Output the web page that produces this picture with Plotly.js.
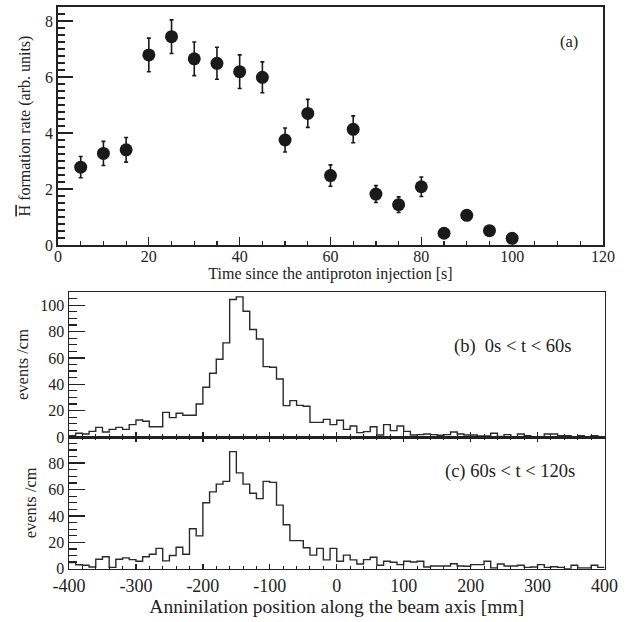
<!DOCTYPE html>
<html>
<head>
<meta charset="utf-8">
<script src="https://cdn.plot.ly/plotly-3.0.1.min.js"></script>
<style>
  html, body { margin: 0; padding: 0; background: #ffffff; }
  #chart { width: 630px; height: 622px; }
</style>
</head>
<body>
<div id="chart"></div>
<script>
// ---- Panel (a): formation rate vs time ----
const timeSec = [5, 10, 15, 20, 25, 30, 35, 40, 45, 50, 55, 60, 65, 70, 75, 80, 85, 90, 95, 100];
const formationRate = [2.78, 3.27, 3.40, 6.79, 7.44, 6.65, 6.49, 6.19, 5.99, 3.75, 4.70, 2.48, 4.13, 1.82, 1.44, 2.08, 0.42, 1.06, 0.51, 0.24];
const formationErr = [0.38, 0.43, 0.44, 0.60, 0.60, 0.60, 0.57, 0.60, 0.55, 0.43, 0.50, 0.38, 0.48, 0.30, 0.28, 0.35, 0.12, 0.15, 0.12, 0.10];

// ---- Panels (b), (c): annihilation position histograms, 10 mm bins from -400 to 400 ----
const binStart = -400;
const binWidth = 10;
const eventsEarly = [
  1.0, 2.8, 2.3, 4.3, 7.3, 3.8, 5.8, 7.3, 5.8, 9.4,
  12.9, 11.9, 7.8, 7.8, 18.7, 14.7, 18.0, 16.5, 16.5, 25.0,
  37.7, 48.4, 59.0, 71.4, 104.3, 106.3, 95.4, 81.5, 74.4, 53.4,
  52.9, 44.0, 23.8, 27.6, 24.0, 23.3, 11.1, 11.1, 13.4, 9.4,
  12.7, 5.8, 8.4, 3.3, 4.1, 7.8, 1.5, 9.4, 4.8, 8.4,
  4.3, 1.5, 1.8, 2.3, 1.8, 1.3, 1.8, 3.8, 2.3, 1.5,
  1.5, 0.8, 0.8, 2.8, 0.5, 1.8, 0.0, 2.3, 1.0, 0.3,
  0.3, 2.3, 2.3, 1.0, 1.0, 0.0, 1.0, 0.0, 1.0, 0.0
];
const eventsLate = [
  4.6, 3.0, 2.6, 1.3, 7.2, 9.0, 1.0, 7.2, 8.2, 6.9,
  5.6, 9.0, 11.0, 15.4, 5.9, 10.0, 16.2, 11.0, 30.3, 24.9,
  50.0, 58.2, 64.1, 66.2, 88.7, 72.6, 64.1, 57.2, 53.1, 66.2,
  65.4, 48.2, 33.3, 21.3, 21.3, 15.9, 10.3, 15.4, 6.7, 15.4,
  5.6, 10.3, 6.7, 3.6, 6.9, 8.7, 2.6, 5.6, 4.9, 3.1,
  5.6, 5.1, 5.6, 1.3, 2.0, 2.0, 2.0, 3.8, 2.0, 1.8,
  3.1, 3.1, 5.6, 0.5, 3.6, 2.0, 2.0, 2.6, 1.0, 1.3,
  3.1, 1.0, 1.5, 1.0, 0.0, 2.6, 0.5, 0.5, 2.6, 1.0
];

// position-axis tick labels (plain hyphen minus as in the original)
const posTickVals = [-400, -300, -200, -100, 0, 100, 200, 300, 400];
const posTickText = ['-400', '-300', '-200', '-100', '0', '100', '200', '300', '400'];

// bin edges and step values for an outline histogram
const binEdges = [];
for (let i = 0; i <= eventsEarly.length; i++) binEdges.push(binStart + i * binWidth);
const stepY = arr => arr.concat([arr[arr.length - 1]]);

const FONT = 'Liberation Serif, Times New Roman, serif';
const INK = '#1a1a1a';
const W = 630, H = 622;
const px = v => v / W;
const py = v => 1 - v / H;

const traces = [
  {
    type: 'scatter', mode: 'markers',
    x: timeSec, y: formationRate,
    error_y: { type: 'data', array: formationErr, visible: true, color: INK, thickness: 1.6, width: 2 },
    marker: { symbol: 'circle', size: 13, color: INK },
    xaxis: 'x', yaxis: 'y', hoverinfo: 'x+y'
  },
  {
    type: 'scatter', mode: 'lines',
    x: binEdges, y: stepY(eventsEarly),
    line: { shape: 'hv', color: '#2a2a2a', width: 1.4 },
    xaxis: 'x2', yaxis: 'y2'
  },
  {
    type: 'scatter', mode: 'lines',
    x: binEdges, y: stepY(eventsLate),
    line: { shape: 'hv', color: '#2a2a2a', width: 1.4 },
    xaxis: 'x3', yaxis: 'y3'
  }
];

const baseAxis = {
  showgrid: false, zeroline: false, showline: true, mirror: true,
  linecolor: '#222', linewidth: 1.5,
  ticks: 'inside', tickcolor: '#222', tickwidth: 1.3,
  tickfont: { family: FONT, size: 16, color: '#222' }
};

const layout = {
  width: W, height: H,
  margin: { l: 0, r: 0, t: 0, b: 0 },
  paper_bgcolor: '#ffffff', plot_bgcolor: '#ffffff',
  showlegend: false,
  font: { family: FONT, color: '#222' },
  xaxis: Object.assign({}, baseAxis, {
    domain: [px(58), px(603)], range: [0, 120], anchor: 'y',
    dtick: 20, tick0: 0, ticklen: 8,
    minor: { dtick: 5, ticklen: 4, ticks: 'inside', tickcolor: '#222', tickwidth: 1.2 },
    linewidth: 1.8, ticklabelstandoff: -4,
    title: { text: 'Time since the antiproton injection [s]', font: { family: FONT, size: 16, color: '#222' }, standoff: 3 }
  }),
  yaxis: Object.assign({}, baseAxis, {
    domain: [py(245), py(7)], range: [0, 8.5], anchor: 'x',
    dtick: 2, tick0: 0, ticklen: 15,
    minor: { dtick: 0.25, ticklen: 7, ticks: 'inside', tickcolor: '#222', tickwidth: 1.2 },
    linewidth: 1.8,
    title: { text: "<span style='text-decoration:overline'>H</span> formation rate (arb. units)", font: { family: FONT, size: 16, color: '#222' }, standoff: 10 }
  }),
  xaxis2: Object.assign({}, baseAxis, {
    domain: [px(69), px(604.5)], range: [-400, 400], anchor: 'y2',
    dtick: 100, tick0: 0, ticklen: 5, showticklabels: false,
    minor: { dtick: 20, ticklen: 3, ticks: 'inside', tickcolor: '#222', tickwidth: 1 }
  }),
  yaxis2: Object.assign({}, baseAxis, {
    domain: [py(437), py(292)], range: [0, 110], anchor: 'x2',
    dtick: 20, tick0: 0, ticklen: 16, mirror: true,
    minor: { dtick: 5, ticklen: 8, ticks: 'inside', tickcolor: '#222', tickwidth: 1.2 },
    title: { text: 'events /cm', font: { family: FONT, size: 16.5, color: '#222' }, standoff: 7 }
  }),
  xaxis3: Object.assign({}, baseAxis, {
    domain: [px(69), px(604.5)], range: [-400, 400], anchor: 'y3',
    tickmode: 'array', tickvals: posTickVals, ticktext: posTickText,
    ticklen: 5, mirror: 'ticks',
    minor: { dtick: 20, tick0: 0, ticklen: 3, ticks: 'inside', tickcolor: '#222', tickwidth: 1 },
    tickfont: { family: FONT, size: 18, color: '#222' },
    ticklabelstandoff: 0,
    title: { text: 'Anninilation position along the beam axis [mm]', font: { family: FONT, size: 19.5, color: '#222' }, standoff: 3 }
  }),
  yaxis3: Object.assign({}, baseAxis, {
    domain: [py(568.7), py(437)], range: [0, 99.8], anchor: 'x3',
    dtick: 20, tick0: 0, ticklen: 16,
    minor: { dtick: 5, ticklen: 8, ticks: 'inside', tickcolor: '#222', tickwidth: 1.2 },
    title: { text: 'events /cm', font: { family: FONT, size: 16.5, color: '#222' }, standoff: 7 }
  }),
  annotations: [
    { text: '(a)', xref: 'paper', yref: 'paper', x: px(569), y: py(42), xanchor: 'center', yanchor: 'middle', showarrow: false, font: { family: FONT, size: 16.5, color: '#222' } },
    { text: '(b)  0s &lt; t &lt; 60s', xref: 'paper', yref: 'paper', x: px(512), y: py(346), xanchor: 'center', yanchor: 'middle', showarrow: false, font: { family: FONT, size: 18.5, color: '#222' } },
    { text: '(c) 60s &lt; t &lt; 120s', xref: 'paper', yref: 'paper', x: px(509.5), y: py(471), xanchor: 'center', yanchor: 'middle', showarrow: false, font: { family: FONT, size: 18.5, color: '#222' } }
  ]
};

Plotly.newPlot('chart', traces, layout, { staticPlot: true, displayModeBar: false });
</script>
</body>
</html>
